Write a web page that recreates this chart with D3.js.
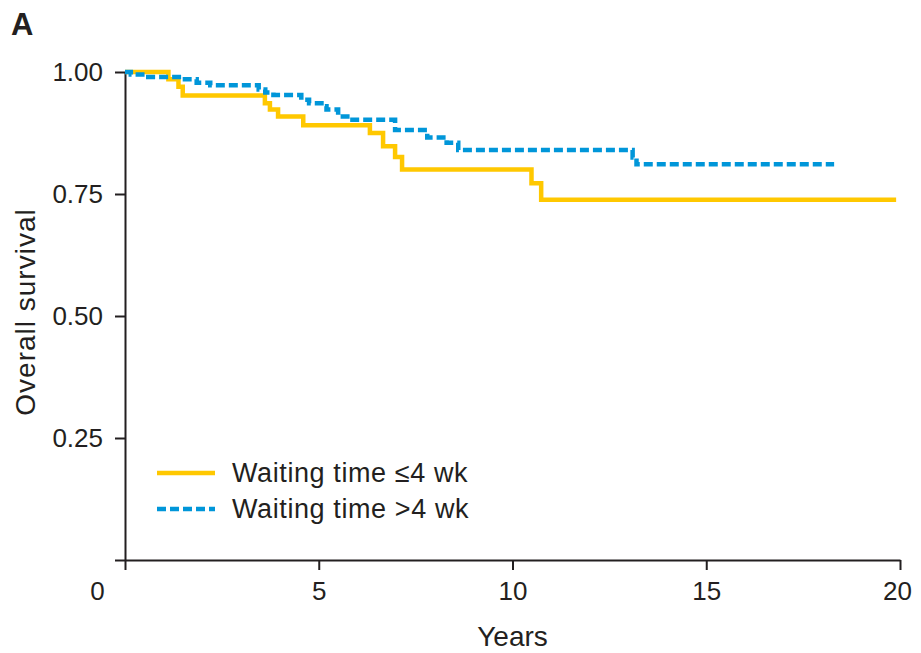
<!DOCTYPE html>
<html>
<head>
<meta charset="utf-8">
<script src="https://cdn.jsdelivr.net/npm/d3@7"></script>
<style>
  body { margin: 0; background: #fff; }
  text { font-family: "Liberation Sans", Arial, sans-serif; fill: #231f20; }
</style>
</head>
<body>
<svg id="km" width="921" height="653"></svg>
<script>
// Kaplan-Meier steps (years, survival)
const shortTimes = [0, 1.12, 1.38, 1.49, 3.61, 3.74, 3.95, 4.6, 6.32, 6.66, 6.97, 7.15, 10.49, 10.74];
const shortSurv  = [1.0, 0.985, 0.97, 0.952, 0.936, 0.923, 0.909, 0.891, 0.875, 0.848, 0.826, 0.80, 0.772, 0.738];
const shortEnd = 19.9;

const longTimes = [0, 0.15, 0.6, 1.47, 1.85, 2.2, 3.45, 3.62, 3.83, 4.55, 4.75, 5.07, 5.2, 5.5, 5.8, 6.97, 7.8, 8.3, 8.6, 13.1, 13.2];
const longSurv  = [1.0, 0.995, 0.99, 0.985, 0.978, 0.973, 0.964, 0.958, 0.953, 0.943, 0.936, 0.93, 0.923, 0.909, 0.902, 0.881, 0.866, 0.855, 0.84, 0.825, 0.811];
const longEnd = 18.3;

const seriesNames = ['Waiting time \u22644 wk', 'Waiting time >4 wk'];
const xTicks = [0, 5, 10, 15, 20];
const yTicks = [0, 0.25, 0.5, 0.75, 1.0];

const svg = d3.select('#km');
const width = +svg.attr('width');
const height = +svg.attr('height');
const margin = { top: 72, right: 21, bottom: 93, left: 125 };
const innerWidth = width - margin.left - margin.right;
const innerHeight = height - margin.top - margin.bottom;

const g = svg.append('g')
    .attr('transform', `translate(${margin.left},${margin.top})`);

const x = d3.scaleLinear().domain([0, 20]).range([0, innerWidth]);
const y = d3.scaleLinear().domain([0, 1]).range([innerHeight, 0]);

const axisColor = '#231f20';

// y axis
const yAxis = g.append('g')
    .call(d3.axisLeft(y).tickValues(yTicks).tickSize(10).tickSizeOuter(0).tickPadding(12)
        .tickFormat(d => d === 0 ? '' : d3.format('.2f')(d)));
// x axis
const xAxis = g.append('g')
    .attr('transform', `translate(0,${innerHeight})`)
    .call(d3.axisBottom(x).tickValues(xTicks).tickSize(10).tickSizeOuter(0).tickPadding(12));

[yAxis, xAxis].forEach(a => {
    a.selectAll('path, line').attr('stroke', axisColor).attr('stroke-width', 2);
    a.selectAll('text').attr('font-size', 26).style('fill', '#231f20');
});
// the 0 label sits left of its tick in the original
xAxis.selectAll('.tick text').filter(d => d === 0).attr('dx', -28);
xAxis.selectAll('.tick text').filter(d => d === 20).attr('dx', -3);

// step curves
const line = d3.line()
    .x(d => x(d[0]))
    .y(d => y(d[1]))
    .curve(d3.curveStepAfter);

const toPoints = (times, surv, end) => {
    const pts = times.map((t, i) => [t, surv[i]]);
    pts.push([end, surv[surv.length - 1]]);
    return pts;
};

const series = [
    { name: seriesNames[0], pts: toPoints(shortTimes, shortSurv, shortEnd), color: '#ffc800', dash: null },
    { name: seriesNames[1], pts: toPoints(longTimes, longSurv, longEnd), color: '#0096d9', dash: '9,4' }
];

// draw the solid one first, dashed on top
g.selectAll('.km')
    .data(series).enter()
    .append('path')
    .attr('class', 'km')
    .attr('fill', 'none')
    .attr('stroke', d => d.color)
    .attr('stroke-width', 4.5)
    .attr('stroke-dasharray', d => d.dash)
    .attr('d', d => line(d.pts));

// legend
const legend = svg.append('g').attr('transform', 'translate(157,473)');
const li = legend.selectAll('.leg').data(series).enter()
    .append('g')
    .attr('transform', (d, i) => `translate(0,${i * 36})`);
li.append('line')
    .attr('x1', 0).attr('x2', 58)
    .attr('stroke', d => d.color)
    .attr('stroke-width', 4.5)
    .attr('stroke-dasharray', d => d.dash);
li.append('text')
    .attr('x', 75).attr('y', 0)
    .attr('dominant-baseline', 'central')
    .attr('font-size', 27)
    .attr('letter-spacing', 0.6)
    .text(d => d.name);

// axis titles
svg.append('text')
    .attr('x', margin.left + x(10)).attr('y', 646)
    .attr('text-anchor', 'middle')
    .attr('font-size', 28)
    .text('Years');
svg.append('text')
    .attr('transform', `translate(35,${margin.top + innerHeight / 2 - 4}) rotate(-90)`)
    .attr('text-anchor', 'middle')
    .attr('font-size', 28)
    .attr('letter-spacing', 1)
    .text('Overall survival');

// panel letter
svg.append('text')
    .attr('x', 11).attr('y', 35)
    .attr('font-size', 31)
    .attr('font-weight', 'bold')
    .text('A');
</script>
</body>
</html>
